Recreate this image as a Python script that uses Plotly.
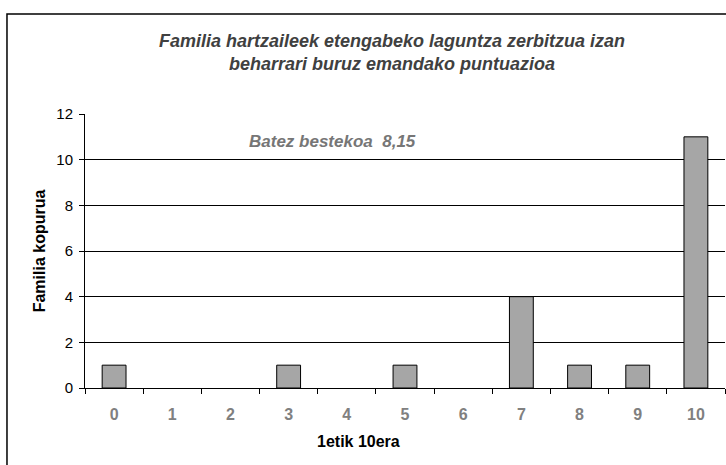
import plotly.graph_objects as go

categories = ["0", "1", "2", "3", "4", "5", "6", "7", "8", "9", "10"]
values = [1, 0, 0, 1, 0, 1, 0, 4, 1, 1, 11]
y_ticks = [0, 2, 4, 6, 8, 10, 12]

title_text = "Familia hartzaileek etengabeko laguntza zerbitzua izan<br>beharrari buruz emandako puntuazioa"
note_text = "Batez bestekoa  8,15"
x_title = "1etik 10era"
y_title = "Familia kopurua"

FONT = "Liberation Sans, Arial, sans-serif"

# zero-height bars are not drawn in the reference (no outline)
bar_values = [v if v != 0 else None for v in values]

fig = go.Figure()
fig.add_trace(go.Bar(
    x=categories, y=bar_values, width=0.41,
    marker=dict(color="#a6a6a6", line=dict(color="#000000", width=1)),
))

fig.update_layout(
    width=726, height=465,
    paper_bgcolor="white", plot_bgcolor="white",
    margin=dict(l=85, r=1, t=114, b=77),
    showlegend=False,
    font=dict(family=FONT, color="#000"),
    title=dict(
        text="<b><i>" + title_text + "</i></b>",
        x=392 / 726, xanchor="center", xref="container",
        y=1 - 46.5 / 465, yanchor="middle", yref="container",
        font=dict(family=FONT, size=18, color="#404040"),
    ),
    annotations=[
        dict(
            text="<b><i>" + note_text + "</i></b>", xref="paper", yref="paper",
            x=0.253, y=0.901, xanchor="left", yanchor="middle", showarrow=False,
            font=dict(family=FONT, size=17, color="#767676"),
        ),
        dict(
            text="<b>" + x_title + "</b>", xref="paper", yref="paper",
            x=0.4266, y=-0.197, xanchor="center", yanchor="middle", showarrow=False,
            font=dict(family=FONT, size=16, color="#000"),
        ),
    ],
    shapes=[dict(
        type="rect", xref="paper", yref="paper",
        x0=-0.1219, x1=1.2, y0=-0.6, y1=1.365,
        line=dict(color="#000", width=1.5), fillcolor="rgba(0,0,0,0)", layer="below",
    )],
)

fig.update_xaxes(
    type="category", tickson="boundaries",
    showline=True, linecolor="#000", linewidth=1,
    ticks="outside", ticklen=5, tickcolor="#000",
    showgrid=False, ticklabelstandoff=12,
    tickfont=dict(family=FONT, size=16, color="#808080", weight="bold"),
)
fig.update_yaxes(
    range=[0, 12], tickvals=y_ticks,
    showline=True, linecolor="#000", linewidth=1,
    ticks="outside", ticklen=5, tickcolor="#000",
    showgrid=True, gridcolor="#000", gridwidth=1,
    zeroline=False, ticklabelstandoff=3,
    tickfont=dict(family=FONT, size=15, color="#000"),
    title=dict(text="<b>" + y_title + "</b>", font=dict(family=FONT, size=16, color="#000"), standoff=6),
)

fig.write_html(
    "out.html",
    config={"displayModeBar": False},
    post_script="document.body.style.margin='0';document.body.style.overflow='hidden';",
)
